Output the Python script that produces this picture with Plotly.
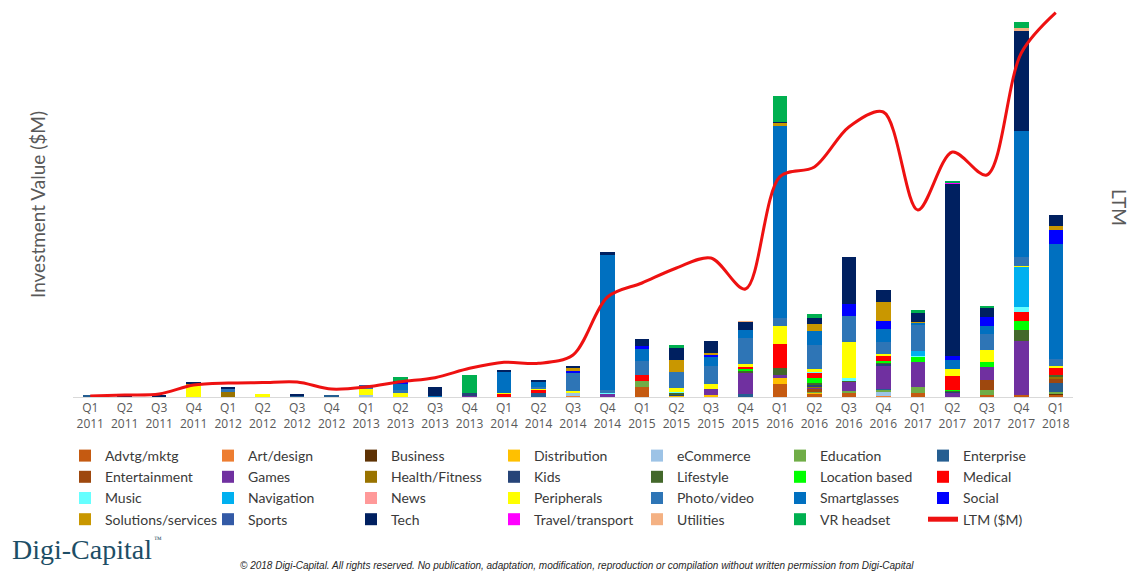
import plotly.graph_objects as go

quarters = ["Q1<br>2011", "Q2<br>2011", "Q3<br>2011", "Q4<br>2011",
            "Q1<br>2012", "Q2<br>2012", "Q3<br>2012", "Q4<br>2012",
            "Q1<br>2013", "Q2<br>2013", "Q3<br>2013", "Q4<br>2013",
            "Q1<br>2014", "Q2<br>2014", "Q3<br>2014", "Q4<br>2014",
            "Q1<br>2015", "Q2<br>2015", "Q3<br>2015", "Q4<br>2015",
            "Q1<br>2016", "Q2<br>2016", "Q3<br>2016", "Q4<br>2016",
            "Q1<br>2017", "Q2<br>2017", "Q3<br>2017", "Q4<br>2017",
            "Q1<br>2018"]

# Investment value by sector ($M), 2011 Q1 .. 2018 Q1 (grouped by year)
advtg_mktg     = [0,0,0,0, 0,0,0,0, 0,0,0,0, 0,0,0,0, 40,0,0,0, 52,12,16,0, 16,0,10,10, 8]
art_design     = [0,0,0,0, 0,0,0,0, 0,0,0,0, 0,0,4,0, 0,0,0,0, 0,0,0,6, 0,0,0,0, 0]
business       = [0,0,0,0, 0,0,0,0, 0,0,0,0, 0,0,0,0, 0,0,0,0, 0,0,0,0, 0,0,0,0, 6]
distribution   = [0,0,0,0, 0,0,0,0, 0,0,0,0, 0,0,0,0, 0,4,10,0, 24,4,0,0, 0,0,0,0, 0]
ecommerce      = [0,0,0,0, 0,0,0,0, 8,0,0,0, 0,0,12,0, 0,0,0,0, 0,0,0,16, 0,0,0,0, 0]
education      = [0,0,0,0, 0,0,0,0, 0,0,0,0, 0,0,0,0, 24,0,0,0, 0,6,10,6, 26,0,18,0, 6]
enterprise     = [8,0,0,0, 0,0,6,6, 0,0,0,0, 0,18,0,0, 0,0,0,12, 0,0,0,6, 0,0,0,0, 36]
entertainment  = [0,0,0,0, 0,0,0,0, 0,0,0,0, 0,0,0,0, 0,0,0,0, 0,10,0,0, 0,0,40,0, 18]
games          = [0,0,0,0, 0,0,0,0, 0,0,0,4, 0,0,0,12, 0,0,24,86, 14,6,36,92, 100,16,52,214, 0]
health_fitness = [0,0,0,0, 22,0,0,0, 0,0,0,0, 0,0,0,0, 0,0,0,0, 0,4,0,0, 0,0,0,0, 8]
kids           = [0,0,0,0, 0,0,0,0, 0,0,0,12, 0,0,0,0, 0,6,0,0, 0,6,0,6, 0,4,0,0, 0]
lifestyle      = [0,0,0,0, 0,0,0,0, 0,0,0,0, 0,0,0,0, 0,8,0,8, 26,8,4,6, 0,4,0,46, 6]
location_based = [0,0,0,0, 0,0,0,0, 0,0,0,0, 0,0,0,0, 0,0,0,6, 0,22,0,6, 20,6,20,34, 0]
medical        = [0,0,0,0, 0,0,0,0, 0,0,0,0, 14,10,0,0, 26,0,0,8, 96,18,0,20, 0,54,0,36, 30]
music          = [0,0,0,0, 0,0,0,0, 0,0,0,0, 0,0,0,6, 0,4,0,0, 0,6,12,0, 4,0,0,20, 0]
navigation     = [0,0,0,0, 0,0,0,0, 0,0,0,0, 0,0,0,0, 0,0,0,0, 0,0,0,0, 20,0,0,160, 0]
news           = [0,0,0,0, 0,0,0,0, 0,0,0,0, 0,0,0,0, 0,0,0,0, 0,0,0,0, 0,0,0,0, 0]
peripherals    = [0,0,0,48, 0,12,0,0, 24,16,0,0, 4,4,8,0, 0,16,18,14, 74,10,142,8, 0,30,50,4, 8]
photo_video    = [0,0,0,0, 10,0,0,0, 12,12,0,0, 0,8,72,10, 56,62,72,104, 32,96,106,48, 104,0,64,38, 26]
smartglasses   = [0,0,0,0, 0,0,0,0, 0,24,4,0, 84,22,0,540, 48,0,36,30, 768,56,0,54, 6,36,30,504, 462]
social         = [0,0,0,0, 0,0,0,0, 0,8,0,0, 0,0,8,0, 10,0,10,0, 0,0,46,32, 0,16,36,0, 54]
solutions      = [0,0,0,4, 0,0,0,0, 0,0,0,0, 0,0,12,0, 0,50,8,0, 10,30,0,76, 4,0,0,0, 18]
sports         = [0,0,0,0, 0,0,0,0, 4,0,0,0, 0,0,0,0, 0,0,0,0, 0,0,0,0, 0,0,0,0, 0]
tech           = [0,3,8,8, 6,0,6,0, 0,6,38,0, 6,8,10,12, 30,48,48,32, 4,22,188,48, 36,686,38,400, 44]
travel         = [0,0,0,0, 0,0,0,0, 0,0,0,0, 0,0,0,0, 0,0,0,0, 0,0,0,0, 0,4,0,0, 0]
utilities      = [0,0,0,0, 0,0,0,0, 0,0,0,0, 0,0,0,0, 0,0,0,4, 0,0,0,0, 0,0,0,12, 0]
vr_headset     = [0,0,0,0, 0,0,0,0, 0,14,0,72, 0,0,0,0, 0,10,0,0, 104,16,0,0, 12,6,6,22, 0]

# Last-twelve-months total ($M)
ltm = [9,18,27,108, 126,130,135,72, 90,138,174,258, 312,303,378,900,
       1026,1161,1251,972, 1983,2070,2430,2565, 1683,2205,1998,3096, 3459]

series = [
    ("Advtg/mktg", advtg_mktg, "#C55A11"),
    ("Art/design", art_design, "#ED7D31"),
    ("Business", business, "#5E3204"),
    ("Distribution", distribution, "#FFC000"),
    ("eCommerce", ecommerce, "#9DC3E6"),
    ("Education", education, "#70AD47"),
    ("Enterprise", enterprise, "#255E91"),
    ("Entertainment", entertainment, "#9E480E"),
    ("Games", games, "#7030A0"),
    ("Health/Fitness", health_fitness, "#997300"),
    ("Kids", kids, "#264478"),
    ("Lifestyle", lifestyle, "#43682B"),
    ("Location based", location_based, "#00FF00"),
    ("Medical", medical, "#FF0000"),
    ("Music", music, "#66FFFF"),
    ("Navigation", navigation, "#00B0F0"),
    ("News", news, "#FF9999"),
    ("Peripherals", peripherals, "#FFFF00"),
    ("Photo/video", photo_video, "#2E75B6"),
    ("Smartglasses", smartglasses, "#0070C0"),
    ("Social", social, "#0000FF"),
    ("Solutions/services", solutions, "#C99700"),
    ("Sports", sports, "#335AA6"),
    ("Tech", tech, "#002060"),
    ("Travel/transport", travel, "#FF00FF"),
    ("Utilities", utilities, "#F4B183"),
    ("VR headset", vr_headset, "#00B050"),
]

fig = go.Figure()
for name, vals, color in series:
    fig.add_trace(go.Bar(x=quarters, y=vals, name=name, marker_color=color,
                         marker_line_width=0, yaxis="y"))

fig.add_trace(go.Scatter(x=quarters, y=ltm, name="LTM ($M)", mode="lines",
                         line=dict(color="#EE1111", width=3, shape="spline", smoothing=0.9),
                         yaxis="y2"))

W, H = 1134, 574
l, r, t, b = 73, 61, 8, 177
pw, ph = W - l - r, H - t - b


def px(xp, yp):
    """pixel position in the page -> paper coordinates"""
    return (xp - l) / pw, (H - b - yp) / ph


def ann(text, xp, yp, **kw):
    x, y = px(xp, yp)
    d = dict(text=text, x=x, y=y, xref="paper", yref="paper", showarrow=False,
             xanchor="center", yanchor="middle")
    d.update(kw)
    return d


lx, ly = px(65, 440)

fig.update_layout(
    width=W, height=H,
    margin=dict(l=l, r=r, t=t, b=b),
    paper_bgcolor="white", plot_bgcolor="white",
    barmode="stack", bargap=0.58,
    showlegend=True,
    legend=dict(orientation="h", x=lx, xanchor="left", y=ly, yanchor="top",
                traceorder="normal", entrywidth=98, entrywidthmode="pixels",
                font=dict(family="Lato", size=14, color="#3A3A3A"),
                itemsizing="constant", bgcolor="rgba(0,0,0,0)"),
    xaxis=dict(type="category", showline=True, linecolor="#D9D9D9", linewidth=1,
               ticks="", showgrid=False,
               tickfont=dict(family="Open Sans", size=12, color="#595959")),
    yaxis=dict(range=[0, 1556], showticklabels=False, showgrid=False,
               zeroline=False, showline=False),
    yaxis2=dict(range=[0, 3501], overlaying="y", side="right",
                showticklabels=False, showgrid=False, zeroline=False, showline=False),
    annotations=[
        ann("Investment Value ($M)", 37, 205, textangle=-90,
            font=dict(family="Lato", size=19, color="#595959")),
        ann("LTM", 1120, 207, textangle=90,
            font=dict(family="Lato", size=19, color="#595959")),
        ann("Digi-Capital", 10, 549, xanchor="left",
            font=dict(family="Liberation Serif", size=28, color="#1D4E66")),
        ann("™", 152, 539, xanchor="left",
            font=dict(family="Liberation Serif", size=8, color="#1D4E66")),
        ann("<i>© 2018 Digi-Capital. All rights reserved. No publication, adaptation, "
            "modification, reproduction or compilation without written permission "
            "from Digi-Capital</i>", 577, 565,
            font=dict(family="Liberation Sans", size=10, color="#262626")),
    ],
)

fig.write_html("out.html")
